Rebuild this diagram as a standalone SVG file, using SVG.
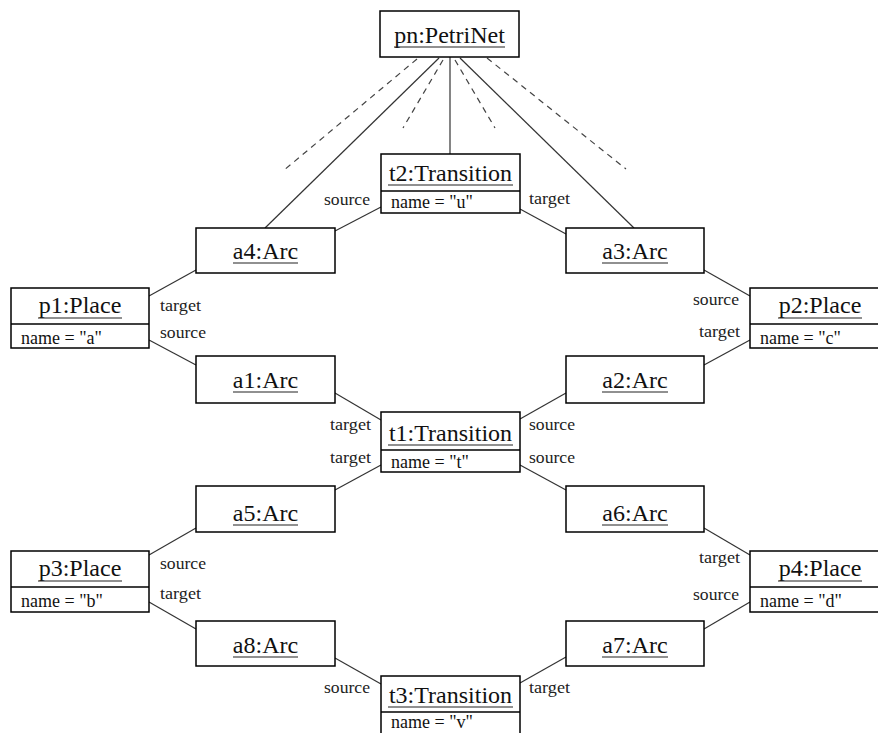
<svg xmlns="http://www.w3.org/2000/svg" width="878" height="733" viewBox="0 0 878 733">
<style>
rect{fill:#fff;stroke:#000;stroke-width:1.5}
.div{stroke:#000;stroke-width:1.5}
.ul{stroke:#222;stroke-width:1.2}
text{font-family:'Liberation Serif','DejaVu Serif',serif}
.nm{font-size:24px;text-anchor:middle;fill:#111}
.at{font-size:18px;fill:#111}
.lb{font-size:16px;fill:#222}
#connectors line{stroke:#333;stroke-width:1.2}
#connectors .d{stroke:#444;stroke-dasharray:6 5}
</style>
<rect x="0" y="0" width="878" height="733" style="fill:#fff;stroke:none"/>
<g id="connectors">
<line class="d" x1="417" y1="59" x2="283" y2="171"/>
<line class="d" x1="443" y1="60" x2="403" y2="128"/>
<line class="d" x1="455" y1="60" x2="495" y2="128"/>
<line class="d" x1="487" y1="58" x2="626" y2="169"/>
<line x1="439" y1="58" x2="265" y2="228"/>
<line x1="450" y1="57" x2="450" y2="154"/>
<line x1="460" y1="58" x2="634" y2="228"/>
<line x1="335" y1="231" x2="381" y2="207"/>
<line x1="520" y1="209" x2="566" y2="234"/>
<line x1="196" y1="270" x2="149" y2="296"/>
<line x1="149" y1="340" x2="196" y2="365"/>
<line x1="335" y1="393" x2="381" y2="420"/>
<line x1="520" y1="419" x2="566" y2="393"/>
<line x1="704" y1="270" x2="750" y2="296"/>
<line x1="750" y1="340" x2="704" y2="365"/>
<line x1="381" y1="465" x2="335" y2="490"/>
<line x1="520" y1="465" x2="566" y2="490"/>
<line x1="196" y1="528" x2="149" y2="555"/>
<line x1="149" y1="602" x2="196" y2="629"/>
<line x1="335" y1="658" x2="381" y2="684"/>
<line x1="704" y1="528" x2="750" y2="555"/>
<line x1="750" y1="602" x2="704" y2="629"/>
<line x1="566" y1="657" x2="520" y2="683"/>
</g>
<g id="labels">
<text class="lb" x="324" y="205" textLength="46" lengthAdjust="spacingAndGlyphs">source</text>
<text class="lb" x="529" y="204" textLength="41" lengthAdjust="spacingAndGlyphs">target</text>
<text class="lb" x="160" y="311" textLength="41" lengthAdjust="spacingAndGlyphs">target</text>
<text class="lb" x="160" y="338" textLength="46" lengthAdjust="spacingAndGlyphs">source</text>
<text class="lb" x="693" y="305" textLength="46" lengthAdjust="spacingAndGlyphs">source</text>
<text class="lb" x="699" y="337" textLength="41" lengthAdjust="spacingAndGlyphs">target</text>
<text class="lb" x="330" y="430" textLength="41" lengthAdjust="spacingAndGlyphs">target</text>
<text class="lb" x="330" y="463" textLength="41" lengthAdjust="spacingAndGlyphs">target</text>
<text class="lb" x="529" y="430" textLength="46" lengthAdjust="spacingAndGlyphs">source</text>
<text class="lb" x="529" y="463" textLength="46" lengthAdjust="spacingAndGlyphs">source</text>
<text class="lb" x="160" y="569" textLength="46" lengthAdjust="spacingAndGlyphs">source</text>
<text class="lb" x="160" y="599" textLength="41" lengthAdjust="spacingAndGlyphs">target</text>
<text class="lb" x="699" y="563" textLength="41" lengthAdjust="spacingAndGlyphs">target</text>
<text class="lb" x="693" y="600" textLength="46" lengthAdjust="spacingAndGlyphs">source</text>
<text class="lb" x="324" y="693" textLength="46" lengthAdjust="spacingAndGlyphs">source</text>
<text class="lb" x="529" y="693" textLength="41" lengthAdjust="spacingAndGlyphs">target</text>
</g>
<g id="pn">
<rect x="380" y="11" width="139" height="46"/>
<text class="nm" x="449.5" y="43">pn:PetriNet</text>
<line class="ul" x1="394" y1="47" x2="505" y2="47"/>
</g>
<g id="t2">
<rect x="381" y="154" width="139" height="59"/>
<line class="div" x1="381" y1="191" x2="520" y2="191"/>
<text class="nm" x="450.5" y="181">t2:Transition</text>
<line class="ul" x1="388" y1="185" x2="513" y2="185"/>
<text class="at" x="391" y="208">name = "u"</text>
</g>
<g id="a4">
<rect x="196" y="228" width="139" height="45"/>
<text class="nm" x="265.5" y="259">a4:Arc</text>
<line class="ul" x1="233" y1="263" x2="298" y2="263"/>
</g>
<g id="a3">
<rect x="566" y="228" width="138" height="45"/>
<text class="nm" x="635" y="259">a3:Arc</text>
<line class="ul" x1="602" y1="263" x2="668" y2="263"/>
</g>
<g id="p1">
<rect x="11" y="288" width="138" height="60"/>
<line class="div" x1="11" y1="324" x2="149" y2="324"/>
<text class="nm" x="80" y="313">p1:Place</text>
<line class="ul" x1="38" y1="318" x2="122" y2="318"/>
<text class="at" x="21" y="344">name = "a"</text>
</g>
<g id="p2">
<rect x="750" y="288" width="140" height="60"/>
<line class="div" x1="750" y1="324" x2="890" y2="324"/>
<text class="nm" x="820" y="313">p2:Place</text>
<line class="ul" x1="778" y1="318" x2="862" y2="318"/>
<text class="at" x="760" y="344">name = "c"</text>
</g>
<g id="a1">
<rect x="196" y="356" width="139" height="47"/>
<text class="nm" x="265.5" y="388">a1:Arc</text>
<line class="ul" x1="233" y1="392" x2="298" y2="392"/>
</g>
<g id="a2">
<rect x="566" y="356" width="138" height="47"/>
<text class="nm" x="635" y="388">a2:Arc</text>
<line class="ul" x1="602" y1="392" x2="668" y2="392"/>
</g>
<g id="t1">
<rect x="381" y="412" width="139" height="60"/>
<line class="div" x1="381" y1="450" x2="520" y2="450"/>
<text class="nm" x="450.5" y="441">t1:Transition</text>
<line class="ul" x1="388" y1="445" x2="513" y2="445"/>
<text class="at" x="391" y="468">name = "t"</text>
</g>
<g id="a5">
<rect x="196" y="486" width="139" height="46"/>
<text class="nm" x="265.5" y="521">a5:Arc</text>
<line class="ul" x1="233" y1="525" x2="298" y2="525"/>
</g>
<g id="a6">
<rect x="566" y="486" width="138" height="46"/>
<text class="nm" x="635" y="521">a6:Arc</text>
<line class="ul" x1="602" y1="525" x2="668" y2="525"/>
</g>
<g id="p3">
<rect x="11" y="551" width="138" height="61"/>
<line class="div" x1="11" y1="587" x2="149" y2="587"/>
<text class="nm" x="80" y="576">p3:Place</text>
<line class="ul" x1="38" y1="581" x2="122" y2="581"/>
<text class="at" x="21" y="607">name = "b"</text>
</g>
<g id="p4">
<rect x="750" y="551" width="140" height="61"/>
<line class="div" x1="750" y1="587" x2="890" y2="587"/>
<text class="nm" x="820" y="576">p4:Place</text>
<line class="ul" x1="778" y1="581" x2="862" y2="581"/>
<text class="at" x="760" y="607">name = "d"</text>
</g>
<g id="a8">
<rect x="196" y="621" width="139" height="45"/>
<text class="nm" x="265.5" y="653">a8:Arc</text>
<line class="ul" x1="233" y1="657" x2="298" y2="657"/>
</g>
<g id="a7">
<rect x="566" y="621" width="138" height="45"/>
<text class="nm" x="635" y="653">a7:Arc</text>
<line class="ul" x1="602" y1="657" x2="668" y2="657"/>
</g>
<g id="t3">
<rect x="381" y="676" width="139" height="70"/>
<line class="div" x1="381" y1="712" x2="520" y2="712"/>
<text class="nm" x="450.5" y="703">t3:Transition</text>
<line class="ul" x1="388" y1="707" x2="513" y2="707"/>
<text class="at" x="391" y="728">name = "v"</text>
</g>
</svg>
